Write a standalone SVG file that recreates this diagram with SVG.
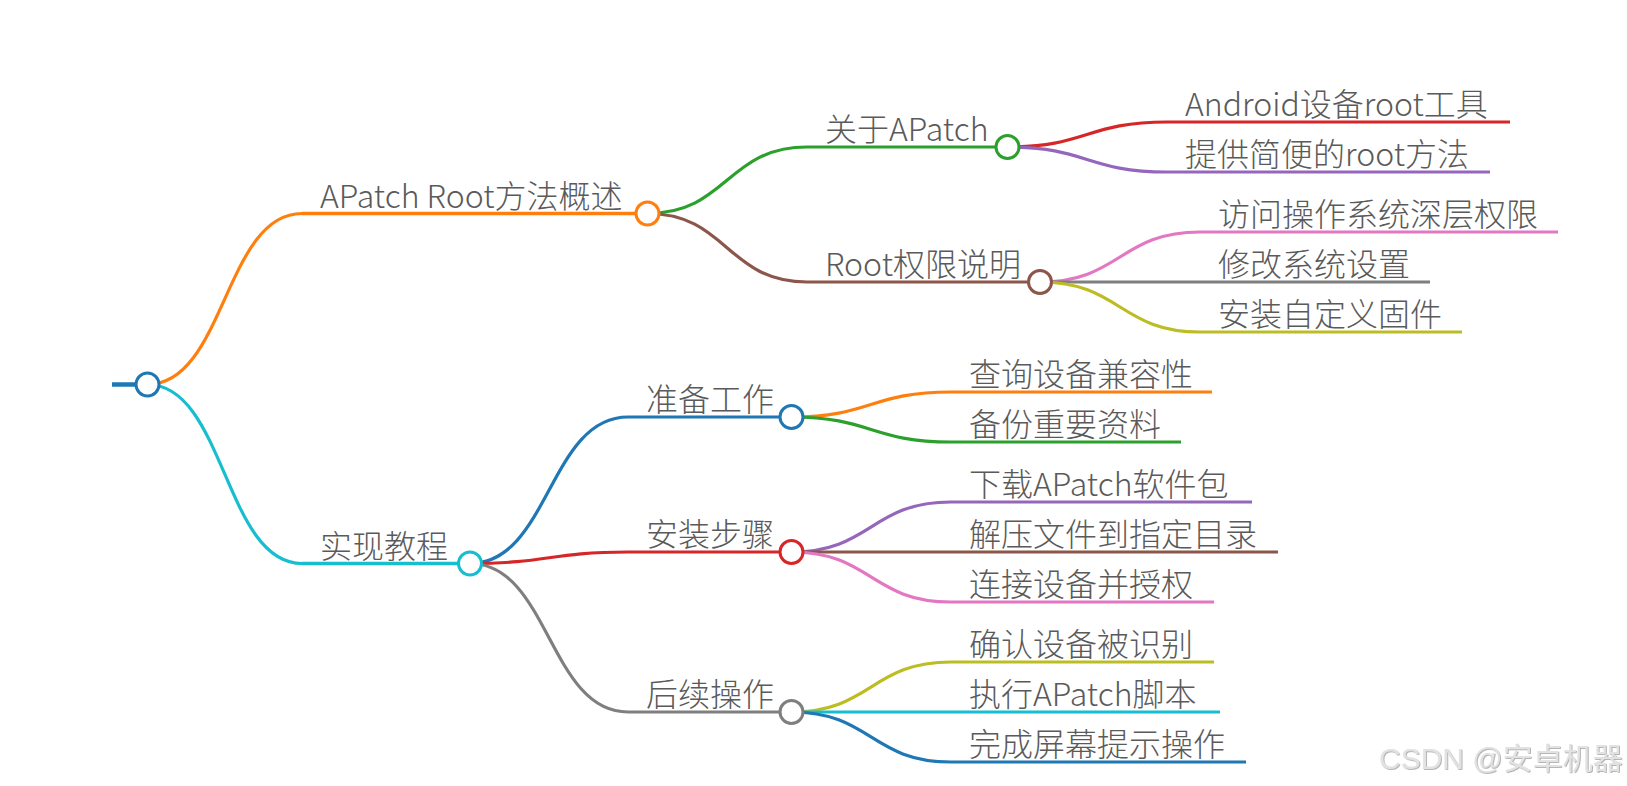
<svg xmlns="http://www.w3.org/2000/svg" width="1627" height="786" viewBox="0 0 1627 786">
<style>
.t{font-family:"Noto Sans CJK SC","Noto Sans",sans-serif;font-size:32px;font-weight:300;fill:#5a5a5a}
.l{fill:none;stroke-width:3.2;stroke-linecap:butt}
.c{fill:#fff;stroke-width:3}
.wm{font-family:"Liberation Sans","Noto Sans CJK SC",sans-serif;font-size:30px;fill:#e2e2e2}
</style>
<defs>
<filter id="emb" x="-5%" y="-20%" width="110%" height="140%">
<feDropShadow dx="0.8" dy="0.8" stdDeviation="0.4" flood-color="#9a9a9a" flood-opacity="0.9"/>
</filter>
</defs>
<rect width="1627" height="786" fill="#fff"/>
<g id="connectors" class="links">
<path class="l" stroke="#ff7f0e" stroke-width="3.5" d="M147.5 384.5 C224.7 384.5 224.7 213.5 302 213.5"/>
<path class="l" stroke="#17becf" stroke-width="3.5" d="M147.5 384.5 C224.7 384.5 224.7 563.5 302 563.5"/>
<path class="l" stroke="#2ca02c" d="M647.5 213.5 C727 213.5 727 147 807 147"/>
<path class="l" stroke="#8c564b" d="M647.5 213.5 C727 213.5 727 282 807 282"/>
<path class="l" stroke="#d62728" d="M1007.5 147 C1087 147 1087 122 1167 122"/>
<path class="l" stroke="#9467bd" d="M1007.5 147 C1087 147 1087 172 1167 172"/>
<path class="l" stroke="#e377c2" d="M1040 282 C1120 282 1120 232 1200 232"/>
<path class="l" stroke="#7f7f7f" d="M1040 282 L1200 282"/>
<path class="l" stroke="#bcbd22" d="M1040 282 C1120 282 1120 332 1200 332"/>
<path class="l" stroke="#1f77b4" d="M470 563.5 C549 563.5 549 417 628 417"/>
<path class="l" stroke="#d62728" d="M470 563.5 C549 563.5 549 552 628 552"/>
<path class="l" stroke="#7f7f7f" d="M470 563.5 C549 563.5 549 712 628 712"/>
<path class="l" stroke="#ff7f0e" d="M791.5 417 C871 417 871 392 951 392"/>
<path class="l" stroke="#2ca02c" d="M791.5 417 C871 417 871 442 951 442"/>
<path class="l" stroke="#9467bd" d="M791.5 552 C871 552 871 502 951 502"/>
<path class="l" stroke="#8c564b" d="M791.5 552 L951 552"/>
<path class="l" stroke="#e377c2" d="M791.5 552 C871 552 871 602 951 602"/>
<path class="l" stroke="#bcbd22" d="M791.5 712 C871 712 871 662 951 662"/>
<path class="l" stroke="#17becf" d="M791.5 712 L951 712"/>
<path class="l" stroke="#1f77b4" d="M791.5 712 C871 712 871 762 951 762"/>
</g>
<g id="root">
<line x1="112" y1="384.5" x2="147.5" y2="384.5" stroke="#1f77b4" stroke-width="4.5"/>
<circle class="c" cx="147.5" cy="384.5" r="11.5" stroke="#1f77b4"/>
</g>
<g id="n-overview">
<line x1="302" y1="213.5" x2="647.5" y2="213.5" stroke="#ff7f0e" stroke-width="3.5"/>
<text class="t" x="320" y="207.5">APatch Root方法概述</text>
<circle class="c" cx="647.5" cy="213.5" r="11.5" stroke="#ff7f0e"/>
</g>
<g id="n-tutorial">
<line x1="302" y1="563.5" x2="470" y2="563.5" stroke="#17becf" stroke-width="3.5"/>
<text class="t" x="320" y="557.5">实现教程</text>
<circle class="c" cx="470" cy="563.5" r="11.5" stroke="#17becf"/>
</g>
<g id="n-about">
<line x1="807" y1="147" x2="1007.5" y2="147" stroke="#2ca02c" stroke-width="3.2"/>
<text class="t" x="825" y="141">关于APatch</text>
<circle class="c" cx="1007.5" cy="147" r="11.5" stroke="#2ca02c"/>
</g>
<g id="n-rootperm">
<line x1="807" y1="282" x2="1040" y2="282" stroke="#8c564b" stroke-width="3.2"/>
<text class="t" x="825" y="276">Root权限说明</text>
<circle class="c" cx="1040" cy="282" r="11.5" stroke="#8c564b"/>
</g>
<g id="n-android">
<line x1="1167" y1="122" x2="1510" y2="122" stroke="#d62728" stroke-width="3"/>
<text class="t" x="1185" y="116">Android设备root工具</text>
</g>
<g id="n-simple">
<line x1="1167" y1="172" x2="1490" y2="172" stroke="#9467bd" stroke-width="3"/>
<text class="t" x="1185" y="166">提供简便的root方法</text>
</g>
<g id="n-access">
<line x1="1200" y1="232" x2="1558" y2="232" stroke="#e377c2" stroke-width="3"/>
<text class="t" x="1218" y="226">访问操作系统深层权限</text>
</g>
<g id="n-modify">
<line x1="1200" y1="282" x2="1430" y2="282" stroke="#7f7f7f" stroke-width="3"/>
<text class="t" x="1218" y="276">修改系统设置</text>
</g>
<g id="n-firmware">
<line x1="1200" y1="332" x2="1462" y2="332" stroke="#bcbd22" stroke-width="3"/>
<text class="t" x="1218" y="326">安装自定义固件</text>
</g>
<g id="n-prepare">
<line x1="628" y1="417" x2="791.5" y2="417" stroke="#1f77b4" stroke-width="3.2"/>
<text class="t" x="646" y="411">准备工作</text>
<circle class="c" cx="791.5" cy="417" r="11.5" stroke="#1f77b4"/>
</g>
<g id="n-install">
<line x1="628" y1="552" x2="791.5" y2="552" stroke="#d62728" stroke-width="3.2"/>
<text class="t" x="646" y="546">安装步骤</text>
<circle class="c" cx="791.5" cy="552" r="11.5" stroke="#d62728"/>
</g>
<g id="n-follow">
<line x1="628" y1="712" x2="791.5" y2="712" stroke="#7f7f7f" stroke-width="3.2"/>
<text class="t" x="646" y="706">后续操作</text>
<circle class="c" cx="791.5" cy="712" r="11.5" stroke="#7f7f7f"/>
</g>
<g id="n-compat">
<line x1="951" y1="392" x2="1212" y2="392" stroke="#ff7f0e" stroke-width="3"/>
<text class="t" x="969" y="386">查询设备兼容性</text>
</g>
<g id="n-backup">
<line x1="951" y1="442" x2="1181" y2="442" stroke="#2ca02c" stroke-width="3"/>
<text class="t" x="969" y="436">备份重要资料</text>
</g>
<g id="n-download">
<line x1="951" y1="502" x2="1252" y2="502" stroke="#9467bd" stroke-width="3"/>
<text class="t" x="969" y="496">下载APatch软件包</text>
</g>
<g id="n-extract">
<line x1="951" y1="552" x2="1278" y2="552" stroke="#8c564b" stroke-width="3"/>
<text class="t" x="969" y="546">解压文件到指定目录</text>
</g>
<g id="n-connect">
<line x1="951" y1="602" x2="1214" y2="602" stroke="#e377c2" stroke-width="3"/>
<text class="t" x="969" y="596">连接设备并授权</text>
</g>
<g id="n-confirm">
<line x1="951" y1="662" x2="1214" y2="662" stroke="#bcbd22" stroke-width="3"/>
<text class="t" x="969" y="656">确认设备被识别</text>
</g>
<g id="n-script">
<line x1="951" y1="712" x2="1220" y2="712" stroke="#17becf" stroke-width="3"/>
<text class="t" x="969" y="706">执行APatch脚本</text>
</g>
<g id="n-finish">
<line x1="951" y1="762" x2="1246" y2="762" stroke="#1f77b4" stroke-width="3"/>
<text class="t" x="969" y="756">完成屏幕提示操作</text>
</g>
<text class="wm" x="1379" y="769" filter="url(#emb)">CSDN @安卓机器</text>
</svg>
